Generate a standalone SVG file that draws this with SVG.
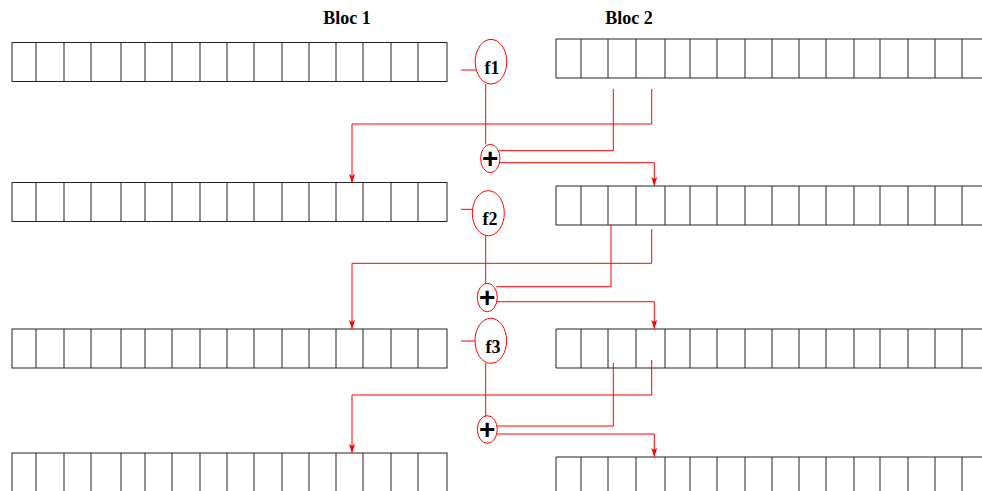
<svg xmlns="http://www.w3.org/2000/svg" xmlns:xlink="http://www.w3.org/1999/xlink" width="982" height="491" viewBox="0 0 982 491">
  <style>
    .cell { fill: none; stroke: #222; stroke-width: 1; }
    .red { fill: none; stroke: #ff0000; stroke-width: 1; }
    .node { fill: #fff; stroke: #ff0000; stroke-width: 1; }
    .title { font-family: "Liberation Serif", "Times New Roman", serif; font-weight: bold; font-size: 18px; fill: #000; text-anchor: middle; }
    .fn { font-family: "Liberation Serif", "Times New Roman", serif; font-weight: bold; font-size: 18px; fill: #000; text-anchor: middle; }
    .plus { font-family: "Liberation Sans", Arial, sans-serif; font-weight: bold; font-size: 28px; fill: #000; text-anchor: middle; }
  </style>
  <defs>
    <marker id="arr" markerUnits="userSpaceOnUse" markerWidth="10" markerHeight="8" refX="9" refY="3" orient="auto" overflow="visible">
      <path d="M0,0 L9,3 L0,6 L2,3 z" fill="#ff0000"/>
    </marker>
    <g id="leftRow">
      <rect class="cell" x="12" y="0" width="435" height="39"/>
      <path class="cell" d="M36,0V39M64,0V39M91,0V39M121,0V39M145,0V39M172,0V39M200,0V39M227,0V39M254,0V39M282,0V39M309,0V39M336,0V39M363,0V39M391,0V39M418,0V39"/>
    </g>
    <g id="rightRow">
      <path class="cell" d="M995,0H556V39H995"/>
      <path class="cell" d="M581,0V39M608,0V39M636,0V39M665,0V39M690,0V39M717,0V39M745,0V39M772,0V39M799,0V39M826,0V39M854,0V39M880,0V39M908,0V39M935,0V39M962,0V39"/>
    </g>
  </defs>
  <rect x="0" y="0" width="982" height="491" fill="#fff"/>

  <g id="titles">
    <text class="title" x="347" y="24">Bloc 1</text>
    <text class="title" x="629" y="24">Bloc 2</text>
  </g>

  <g id="bloc1-row1"><use xlink:href="#leftRow" transform="translate(0,42.5)"/></g>
  <g id="bloc2-row1"><use xlink:href="#rightRow" transform="translate(0,39)"/></g>
  <g id="bloc1-row2"><use xlink:href="#leftRow" transform="translate(0,182.5)"/></g>
  <g id="bloc2-row2"><use xlink:href="#rightRow" transform="translate(0,186)"/></g>
  <g id="bloc1-row3"><use xlink:href="#leftRow" transform="translate(0,329)"/></g>
  <g id="bloc2-row3"><use xlink:href="#rightRow" transform="translate(0,329)"/></g>
  <g id="bloc1-row4"><use xlink:href="#leftRow" transform="translate(0,453)"/></g>
  <g id="bloc2-row4"><use xlink:href="#rightRow" transform="translate(0,457)"/></g>

  <g id="connectors">
    <!-- stage 1 -->
    <path class="red" d="M461,70H476"/>
    <path class="red" d="M485.7,84V144.5"/>
    <path class="red" d="M613.3,89V150.7H499"/>
    <path class="red" d="M651.7,89V124H352V183" marker-end="url(#arr)"/>
    <path class="red" d="M499.5,162.7H654.3V186" marker-end="url(#arr)"/>
    <!-- stage 2 -->
    <path class="red" d="M461,209.3H472.5"/>
    <path class="red" d="M485.7,235.5V283.5"/>
    <path class="red" d="M611,224.5V286.7H496.5"/>
    <path class="red" d="M651.7,229V263.3H352V329" marker-end="url(#arr)"/>
    <path class="red" d="M497,301.7H654.3V329" marker-end="url(#arr)"/>
    <!-- stage 3 -->
    <path class="red" d="M461,341H475.5"/>
    <path class="red" d="M485.7,363V416"/>
    <path class="red" d="M613.3,363V426H496.5"/>
    <path class="red" d="M651.7,360V395H352V453" marker-end="url(#arr)"/>
    <path class="red" d="M497,434H654.3V457" marker-end="url(#arr)"/>
  </g>

  <g id="f1">
    <ellipse class="node" cx="491" cy="61.7" rx="15.8" ry="22.3"/>
    <text class="fn" x="492" y="74">f1</text>
  </g>
  <g id="f2">
    <ellipse class="node" cx="488.3" cy="213.2" rx="16" ry="22.5"/>
    <text class="fn" x="490" y="225">f2</text>
  </g>
  <g id="f3">
    <ellipse class="node" cx="490.8" cy="340.8" rx="15.8" ry="22.5"/>
    <text class="fn" x="493" y="353">f3</text>
  </g>
  <g id="plus1">
    <ellipse class="node" cx="490.3" cy="158.5" rx="9.7" ry="14.2"/>
    <text class="plus" x="490.3" y="167.5">+</text>
  </g>
  <g id="plus2">
    <ellipse class="node" cx="487.3" cy="297.5" rx="10" ry="14.2"/>
    <text class="plus" x="487.3" y="306.5">+</text>
  </g>
  <g id="plus3">
    <ellipse class="node" cx="487.3" cy="429.5" rx="10" ry="13.8"/>
    <text class="plus" x="487.3" y="438.5">+</text>
  </g>
</svg>
